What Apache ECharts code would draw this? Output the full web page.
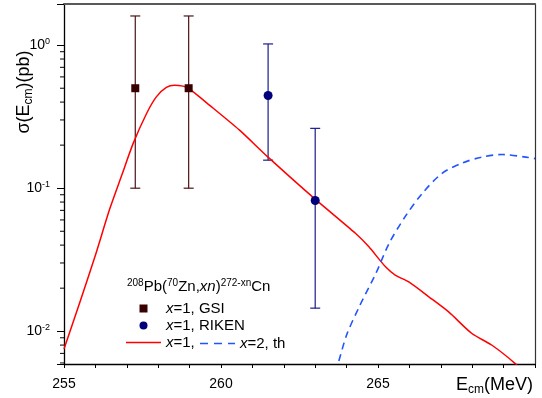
<!DOCTYPE html>
<html><head><meta charset="utf-8">
<script src="https://cdn.jsdelivr.net/npm/echarts@6/dist/echarts.min.js"></script>
<style>html,body{margin:0;padding:0;background:#fff}#c{width:542px;height:398px}</style>
</head><body><div id="c"></div>
<script>
const FONT = '"Liberation Sans", Arial, Helvetica, sans-serif';
// axis ranges
const xMin = 255, xMax = 270;
const yMin = 0.0059, yMax = 1.94;
// tick labels
const xTickLabels = [255, 260, 265];
const yTickLabels = [0.01, 0.1, 1];
const yMinorTicks = [0.006,0.007,0.008,0.009,0.02,0.03,0.04,0.05,0.06,0.07,0.08,0.09,0.2,0.3,0.4,0.5,0.6,0.7,0.8,0.9];
// experimental data: GSI
const gsiE = [257.27, 258.97];
const gsiSigma = [0.5, 0.5];
const gsiLow = [0.1, 0.1];
const gsiHigh = [1.6, 1.6];
// experimental data: RIKEN
const rikenE = [261.5, 263.0];
const rikenSigma = [0.445, 0.082];
const rikenLow = [0.157, 0.0145];
const rikenHigh = [1.02, 0.262];
// theory x=1
const thX1E = [255.0, 255.5, 256.0, 256.46, 256.85, 257.2, 257.63, 257.94, 258.26, 258.52, 258.79, 258.97, 259.63, 260.59, 261.49, 262.98, 264.29, 264.71, 265.24, 265.56, 265.98, 266.62, 267.25, 267.99, 268.63, 269.37, 269.6];
const thX1Sigma = [0.0075, 0.0158, 0.034, 0.072, 0.125, 0.205, 0.333, 0.435, 0.506, 0.525, 0.517, 0.498, 0.381, 0.2545, 0.1656, 0.0845, 0.0482, 0.0389, 0.0282, 0.0246, 0.0221, 0.0174, 0.01364, 0.00964, 0.00798, 0.00594, 0.0052];
// theory x=2
const thX2E = [263.6, 263.71, 264.0, 264.40, 264.93, 265.35, 265.88, 266.41, 267.04, 267.68, 268.31, 268.95, 269.79, 270.0];
const thX2Sigma = [0.0052, 0.0058, 0.0094, 0.0148, 0.0253, 0.041, 0.064, 0.092, 0.127, 0.150, 0.165, 0.172, 0.164, 0.161];

const zip = (a, b) => a.map((v, i) => [v, b[i]]);
const zip3 = (a, b, c) => a.map((v, i) => [v, b[i], c[i]]);

function errRender(color) {
  return function (params, api) {
    const x = api.value(0), lo = api.value(1), hi = api.value(2);
    const pL = api.coord([x, lo]), pH = api.coord([x, hi]);
    const hw = 5;
    const st = { stroke: color, lineWidth: 1.2 };
    return { type: 'group', children: [
      { type: 'line', shape: { x1: pL[0], y1: pL[1], x2: pH[0], y2: pH[1] }, style: st },
      { type: 'line', shape: { x1: pL[0] - hw, y1: pL[1], x2: pL[0] + hw, y2: pL[1] }, style: st },
      { type: 'line', shape: { x1: pH[0] - hw, y1: pH[1], x2: pH[0] + hw, y2: pH[1] }, style: st }
    ]};
  };
}

const legendNames = {
  GSI: '{i|x}{n|=1, GSI}',
  RIKEN: '{i|x}{n|=1, RIKEN}',
  th1: '{i|x}{n|=1,}',
  th2: '{i|x}{n|=2, th}'
};
const legendRich = {
  i: { fontFamily: FONT, fontSize: 15, fontStyle: 'italic', color: '#000', lineHeight: 18 },
  n: { fontFamily: FONT, fontSize: 15, color: '#000', lineHeight: 18 }
};
const ICON_SQUARE = 'path://M0,0L10,0L10,10L0,10Z';
const ICON_LINE = 'path://M0,0L35,0L35,1.6L0,1.6Z';
const ICON_DASH = 'path://M0,0L8,0L8,1.6L0,1.6Z M14,0L22,0L22,1.6L14,1.6Z M28,0L35,0L35,1.6L28,1.6Z';

const chart = echarts.init(document.getElementById('c'), null, { renderer: 'canvas' });
chart.setOption({
  animation: false,
  backgroundColor: '#fff',
  grid: { left: 64, right: 7, top: 4, bottom: 34 },
  xAxis: [{
    type: 'value', min: xMin, max: xMax, interval: 1,
    axisLine: { lineStyle: { color: '#000', width: 1.3 } },
    axisTick: { length: 4, lineStyle: { color: '#000', width: 1 } },
    splitLine: { show: false },
    axisLabel: {
      interval: 0, margin: 13, fontSize: 14, fontFamily: FONT, color: '#000',
      formatter: v => xTickLabels.indexOf(v) >= 0 ? String(v) : ''
    }
  }, {
    type: 'value', min: xMin, max: xMax, position: 'top',
    axisLine: { show: true, lineStyle: { color: '#595959', width: 2.2 } },
    axisTick: { show: false }, axisLabel: { show: false }, splitLine: { show: false }
  }],
  yAxis: [{
    type: 'log', logBase: 10, min: yMin, max: yMax,
    axisLine: { show: true, lineStyle: { color: '#000', width: 1.3 } },
    axisTick: { show: true, length: 7, lineStyle: { color: '#000', width: 1 } },
    splitLine: { show: false },
    axisLabel: {
      margin: 14, color: '#000',
      formatter: v => {
        for (const t of yTickLabels) {
          if (Math.abs(v - t) / t < 1e-6) {
            const e = Math.round(Math.log10(t));
            return '{b|10}{s|' + (e < 0 ? '-' + (-e) : e) + '}';
          }
        }
        return '';
      },
      rich: {
        b: { fontFamily: FONT, fontSize: 14, lineHeight: 16, color: '#000' },
        s: { fontFamily: FONT, fontSize: 9, lineHeight: 6, verticalAlign: 'top', color: '#000' }
      }
    }
  }, {
    type: 'log', logBase: 10, min: yMin, max: yMax, position: 'right',
    axisLine: { show: true, lineStyle: { color: '#333', width: 1.2 } },
    axisTick: { show: false }, axisLabel: { show: false }, splitLine: { show: false }
  }],
  legend: [{
    left: 126, top: 301, orient: 'vertical', itemWidth: 35, itemHeight: 8, itemGap: 2,
    padding: 0, symbolKeepAspect: true,
    data: [{ name: 'GSI', icon: ICON_SQUARE }, { name: 'RIKEN', icon: 'circle' }, { name: 'th1', icon: ICON_LINE }],
    formatter: n => legendNames[n],
    textStyle: { fontFamily: FONT, fontSize: 15, color: '#000', rich: legendRich }
  }, {
    left: 200, top: 336, orient: 'vertical', itemWidth: 35, itemHeight: 8,
    padding: 0, symbolKeepAspect: true,
    data: [{ name: 'th2', icon: ICON_DASH }],
    formatter: n => legendNames[n],
    textStyle: { fontFamily: FONT, fontSize: 15, color: '#000', rich: legendRich }
  }],
  graphic: [{
    type: 'text', left: 127, top: 278, silent: true,
    style: {
      text: '{s|208}{n|Pb(}{s|70}{n|Zn,}{i|xn}{n|)}{s|272-xn}{n|Cn}',
      rich: {
        n: { fontFamily: FONT, fontSize: 15, lineHeight: 18, fill: '#000' },
        i: { fontFamily: FONT, fontSize: 15, lineHeight: 18, fontStyle: 'italic', fill: '#000' },
        s: { fontFamily: FONT, fontSize: 10, lineHeight: 8, verticalAlign: 'top', fill: '#000' }
      }
    }
  }, {
    type: 'text', x: 533, y: 386, silent: true,
    style: {
      text: '{n|E}{b|cm}{n|(MeV)}', align: 'right', verticalAlign: 'middle',
      rich: {
        n: { fontFamily: FONT, fontSize: 18, lineHeight: 20, verticalAlign: 'top', fill: '#000' },
        b: { fontFamily: FONT, fontSize: 12, lineHeight: 6, verticalAlign: 'bottom', fill: '#000' }
      }
    }
  }, {
    type: 'text', x: 25, y: 92, rotation: Math.PI / 2, silent: true,
    style: {
      text: '{n|σ(E}{b|cm}{n|)(pb)}', align: 'center', verticalAlign: 'middle',
      rich: {
        n: { fontFamily: FONT, fontSize: 18, lineHeight: 20, verticalAlign: 'top', fill: '#000' },
        b: { fontFamily: FONT, fontSize: 12, lineHeight: 6, verticalAlign: 'bottom', fill: '#000' }
      }
    }
  }],
  series: [{
    name: 'yMinorTicks', type: 'custom', xAxisIndex: 0, yAxisIndex: 0, silent: true,
    data: yMinorTicks.map(v => [xMin, v]),
    encode: { x: 0, y: 1 },
    renderItem: (params, api) => {
      const p = api.coord([api.value(0), api.value(1)]);
      return { type: 'line', shape: { x1: p[0] - 4, y1: p[1], x2: p[0], y2: p[1] }, style: { stroke: '#000', lineWidth: 1 } };
    }
  }, {
    name: 'GSIerr', type: 'custom', z: 2, silent: true,
    data: zip3(gsiE, gsiLow, gsiHigh), encode: { x: 0, y: [1, 2] },
    renderItem: errRender('#4d1414')
  }, {
    name: 'RIKENerr', type: 'custom', z: 2, silent: true,
    data: zip3(rikenE, rikenLow, rikenHigh), encode: { x: 0, y: [1, 2] },
    renderItem: errRender('#1c1c8e')
  }, {
    name: 'th1', type: 'line', z: 3, smooth: 0.25, symbol: 'none', clip: true,
    data: zip(thX1E, thX1Sigma),
    lineStyle: { color: '#ff0000', width: 1.5 }, itemStyle: { color: '#ff0000' }
  }, {
    name: 'th2', type: 'line', z: 3, smooth: 0.3, symbol: 'none', clip: true,
    data: zip(thX2E, thX2Sigma),
    lineStyle: { color: '#2255ff', width: 1.6, type: [7, 5] }, itemStyle: { color: '#2255ff' }
  }, {
    name: 'GSI', type: 'scatter', z: 4, symbol: 'rect', symbolSize: 8,
    data: zip(gsiE, gsiSigma), itemStyle: { color: '#380000', opacity: 1 }
  }, {
    name: 'RIKEN', type: 'scatter', z: 4, symbol: 'circle', symbolSize: 9,
    data: zip(rikenE, rikenSigma), itemStyle: { color: '#00007d', opacity: 1 }
  }]
});
</script></body></html>
